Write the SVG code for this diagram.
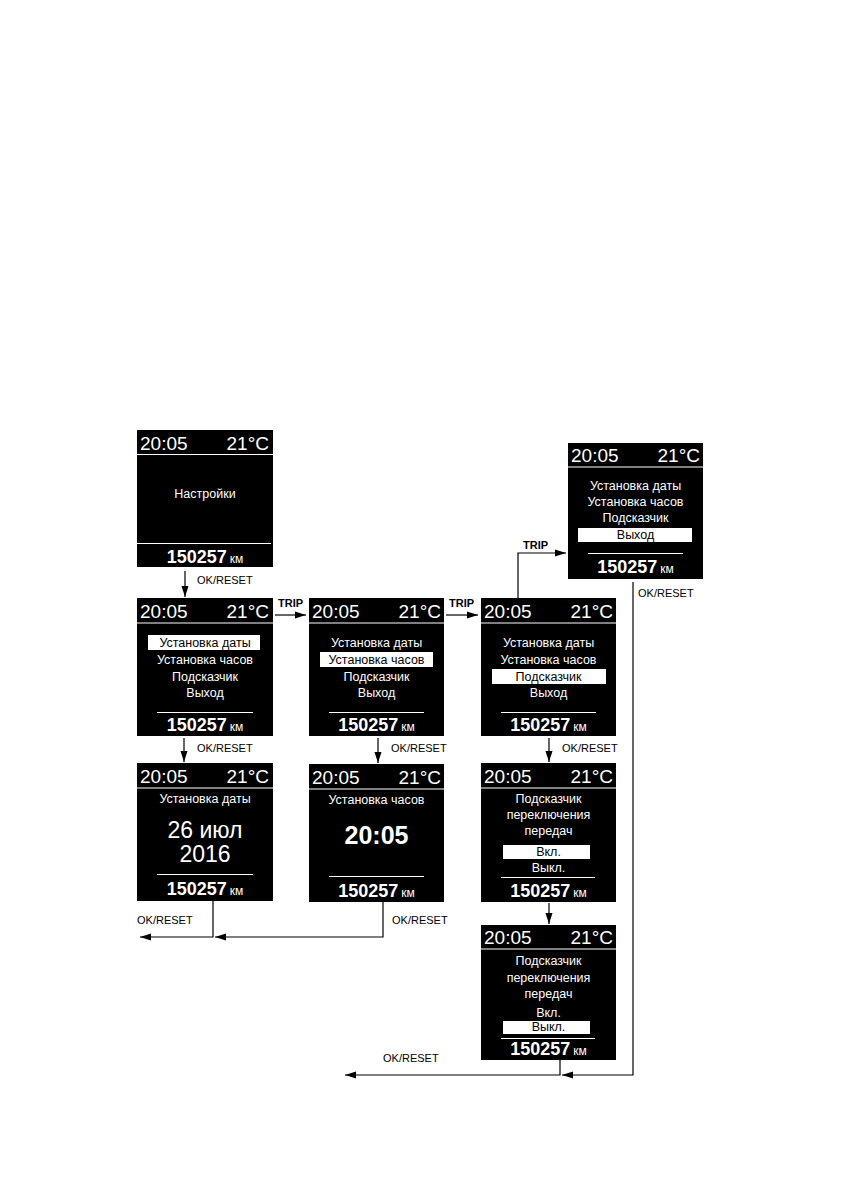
<svg xmlns="http://www.w3.org/2000/svg" width="841" height="1191" viewBox="0 0 841 1191">
<style>
.bg{fill:#fff}
.scr{fill:#000}
.t{font-family:"Liberation Sans",Arial,sans-serif;fill:#fff}
.hd{font-size:19px}
.r{text-anchor:end}
.m{text-anchor:middle;font-size:12.5px}
.big{text-anchor:middle;font-size:23px}
.bb{text-anchor:middle;font-size:25px;font-weight:bold}
.ft{text-anchor:middle}
.num{font-size:18px;font-weight:bold}
.km{font-size:12px}
.hl{fill:#fff}
.dk{fill:#000}
.ln{stroke:#fff;stroke-width:1;fill:none}
.conn path{fill:none;stroke:#000;stroke-width:1.2}
.lbl{font-family:"Liberation Sans",Arial,sans-serif;font-size:11px;fill:#000}
.trip{font-weight:bold}
</style>
<defs>
<marker id="ah" markerUnits="userSpaceOnUse" markerWidth="11" markerHeight="8" refX="11" refY="4" orient="auto">
<path d="M0,0.5 L11,4 L0,7.5 z" fill="#000"/>
</marker>
</defs>
<rect class="bg" x="0" y="0" width="841" height="1191"/>

<g id="s1" transform="translate(137,430)">
<rect class="scr" width="136" height="137"/>
<text class="t hd" x="3" y="20">20:05</text>
<text class="t hd r" x="132" y="20">21°C</text>
<line class="ln" x1="0" y1="24.5" x2="136" y2="24.5"/>
<text class="t m" x="68" y="68">Настройки</text>
<line class="ln" x1="0" y1="113.5" x2="134" y2="113.5"/>
<text class="t ft" x="68" y="133"><tspan class="num">150257</tspan><tspan class="km" dx="3">км</tspan></text>
</g>

<g id="s9" transform="translate(568,443)">
<rect class="scr" width="135" height="136"/>
<text class="t hd" x="3" y="19">20:05</text>
<text class="t hd r" x="132" y="19">21°C</text>
<line class="ln" x1="0" y1="24" x2="135" y2="24"/>
<text class="t m" x="67.5" y="47">Установка даты</text>
<text class="t m" x="67.5" y="63">Установка часов</text>
<text class="t m" x="67.5" y="79">Подсказчик</text>
<rect class="hl" x="10" y="85" width="114" height="14"/>
<text class="t m dk" x="67.5" y="96">Выход</text>
<line class="ln" x1="20" y1="110.5" x2="115" y2="110.5"/>
<text class="t ft" x="67.5" y="130"><tspan class="num">150257</tspan><tspan class="km" dx="3">км</tspan></text>
</g>

<g id="s2" transform="translate(137,598)">
<rect class="scr" width="136" height="138"/>
<text class="t hd" x="3" y="20">20:05</text>
<text class="t hd r" x="132" y="20">21°C</text>
<line class="ln" x1="0" y1="25" x2="136" y2="25"/>
<rect class="hl" x="11" y="37" width="112" height="15"/>
<text class="t m dk" x="68" y="49">Установка даты</text>
<text class="t m" x="68" y="66">Установка часов</text>
<text class="t m" x="68" y="83">Подсказчик</text>
<text class="t m" x="68" y="99">Выход</text>
<line class="ln" x1="20" y1="114.5" x2="116" y2="114.5"/>
<text class="t ft" x="68" y="133"><tspan class="num">150257</tspan><tspan class="km" dx="3">км</tspan></text>
</g>

<g id="s3" transform="translate(309,598)">
<rect class="scr" width="135" height="138"/>
<text class="t hd" x="3" y="20">20:05</text>
<text class="t hd r" x="132" y="20">21°C</text>
<line class="ln" x1="0" y1="25" x2="135" y2="25"/>
<text class="t m" x="67.5" y="49">Установка даты</text>
<rect class="hl" x="11" y="54" width="113" height="15"/>
<text class="t m dk" x="67.5" y="66">Установка часов</text>
<text class="t m" x="67.5" y="83">Подсказчик</text>
<text class="t m" x="67.5" y="99">Выход</text>
<line class="ln" x1="20" y1="114.5" x2="115" y2="114.5"/>
<text class="t ft" x="67.5" y="133"><tspan class="num">150257</tspan><tspan class="km" dx="3">км</tspan></text>
</g>

<g id="s4" transform="translate(481,598)">
<rect class="scr" width="135" height="138"/>
<text class="t hd" x="3" y="20">20:05</text>
<text class="t hd r" x="132" y="20">21°C</text>
<line class="ln" x1="0" y1="25" x2="135" y2="25"/>
<text class="t m" x="67.5" y="49">Установка даты</text>
<text class="t m" x="67.5" y="66">Установка часов</text>
<rect class="hl" x="11" y="71" width="114" height="15"/>
<text class="t m dk" x="67.5" y="83">Подсказчик</text>
<text class="t m" x="67.5" y="99">Выход</text>
<line class="ln" x1="20" y1="114.5" x2="115" y2="114.5"/>
<text class="t ft" x="67.5" y="133"><tspan class="num">150257</tspan><tspan class="km" dx="3">км</tspan></text>
</g>

<g id="s5" transform="translate(137,763)">
<rect class="scr" width="136" height="138"/>
<text class="t hd" x="3" y="20">20:05</text>
<text class="t hd r" x="132" y="20">21°C</text>
<line class="ln" x1="0" y1="25" x2="136" y2="25"/>
<text class="t m" x="68" y="40">Установка даты</text>
<text class="t big" x="68" y="75">26 июл</text>
<text class="t big" x="68" y="99">2016</text>
<line class="ln" x1="20" y1="111.5" x2="116" y2="111.5"/>
<text class="t ft" x="68" y="132"><tspan class="num">150257</tspan><tspan class="km" dx="3">км</tspan></text>
</g>

<g id="s6" transform="translate(309,764)">
<rect class="scr" width="135" height="138"/>
<text class="t hd" x="3" y="20">20:05</text>
<text class="t hd r" x="132" y="20">21°C</text>
<line class="ln" x1="0" y1="25" x2="135" y2="25"/>
<text class="t m" x="67.5" y="40">Установка часов</text>
<text class="t bb" x="67.5" y="80">20:05</text>
<line class="ln" x1="20" y1="112.5" x2="115" y2="112.5"/>
<text class="t ft" x="67.5" y="133"><tspan class="num">150257</tspan><tspan class="km" dx="3">км</tspan></text>
</g>

<g id="s7" transform="translate(481,763)">
<rect class="scr" width="135" height="139"/>
<text class="t hd" x="3" y="20">20:05</text>
<text class="t hd r" x="132" y="20">21°C</text>
<line class="ln" x1="0" y1="25" x2="135" y2="25"/>
<text class="t m" x="67.5" y="40">Подсказчик</text>
<text class="t m" x="67.5" y="56">переключения</text>
<text class="t m" x="67.5" y="72">передач</text>
<rect class="hl" x="22" y="82" width="87" height="14"/>
<text class="t m dk" x="67.5" y="93">Вкл.</text>
<text class="t m" x="67.5" y="109">Выкл.</text>
<line class="ln" x1="20" y1="114.5" x2="114" y2="114.5"/>
<text class="t ft" x="67.5" y="134"><tspan class="num">150257</tspan><tspan class="km" dx="3">км</tspan></text>
</g>

<g id="s8" transform="translate(481,925)">
<rect class="scr" width="135" height="135"/>
<text class="t hd" x="3" y="19">20:05</text>
<text class="t hd r" x="132" y="19">21°C</text>
<line class="ln" x1="0" y1="24" x2="135" y2="24"/>
<text class="t m" x="67.5" y="40">Подсказчик</text>
<text class="t m" x="67.5" y="57">переключения</text>
<text class="t m" x="67.5" y="73">передач</text>
<text class="t m" x="67.5" y="92">Вкл.</text>
<rect class="hl" x="22" y="96" width="87" height="13"/>
<text class="t m dk" x="67.5" y="106">Выкл.</text>
<line class="ln" x1="20" y1="113.5" x2="114" y2="113.5"/>
<text class="t ft" x="67.5" y="130"><tspan class="num">150257</tspan><tspan class="km" dx="3">км</tspan></text>
</g>

<g id="connectors" class="conn">
<path d="M185,571 V597" marker-end="url(#ah)"/>
<path d="M275,615 H306" marker-end="url(#ah)"/>
<path d="M446,615 H478" marker-end="url(#ah)"/>
<path d="M518,598 V553 H566" marker-end="url(#ah)"/>
<path d="M184,738 V762" marker-end="url(#ah)"/>
<path d="M378,738 V763" marker-end="url(#ah)"/>
<path d="M549,738 V762" marker-end="url(#ah)"/>
<path d="M549,903 V924" marker-end="url(#ah)"/>
<path d="M383,902 V937 H215" marker-end="url(#ah)"/>
<path d="M213,901 V937 H140" marker-end="url(#ah)"/>
<path d="M633,582 V1075 H562" marker-end="url(#ah)"/>
<path d="M560,1060 V1075 H345" marker-end="url(#ah)"/>
</g>

<g id="labels">
<text class="lbl" x="197" y="584">OK/RESET</text>
<text class="lbl trip" x="278" y="607">TRIP</text>
<text class="lbl trip" x="449" y="607">TRIP</text>
<text class="lbl trip" x="523" y="549">TRIP</text>
<text class="lbl" x="638" y="597">OK/RESET</text>
<text class="lbl" x="197" y="752">OK/RESET</text>
<text class="lbl" x="391" y="752">OK/RESET</text>
<text class="lbl" x="562" y="752">OK/RESET</text>
<text class="lbl" x="137" y="924">OK/RESET</text>
<text class="lbl" x="392" y="924">OK/RESET</text>
<text class="lbl" x="383" y="1062">OK/RESET</text>
</g>
</svg>
